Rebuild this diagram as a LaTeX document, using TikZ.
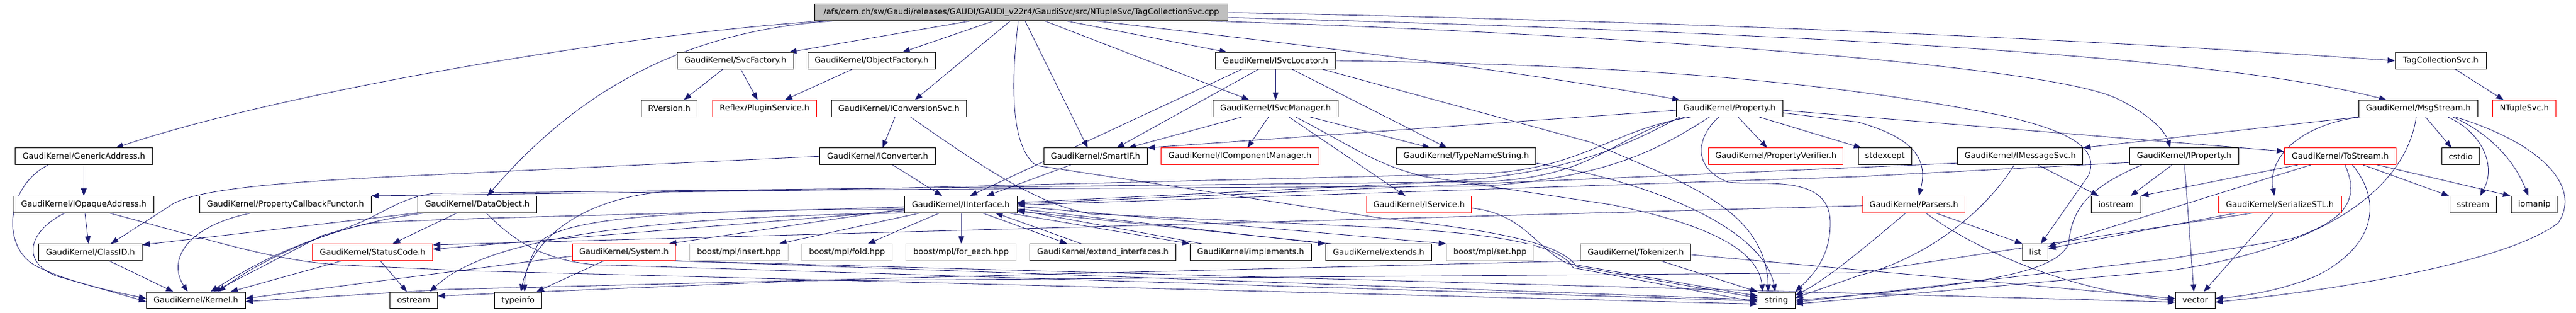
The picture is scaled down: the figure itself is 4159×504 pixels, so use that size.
\documentclass[tikz,border=0pt]{standalone}
\usepackage{fontspec}
\newfontfamily\dvfam{DejaVu Sans}
\usetikzlibrary{arrows.meta}
\definecolor{eb}{HTML}{191970}
\definecolor{gb}{HTML}{BFBFBF}
\pgfdeclarelayer{bg}
\pgfsetlayers{bg,main}
\begin{document}
\begin{tikzpicture}[x=1pt,y=-1pt,
  nd/.style={draw=black, fill=white, line width=1pt, minimum height=26.5pt, inner sep=0pt, font=\dvfam\fontsize{13}{15}\selectfont, text=black},
  rd/.style={nd, draw=red},
  gy/.style={nd, draw=gb},
  edg/.style={draw=eb, line width=0.8pt, -{Triangle[length=12pt,width=9pt]}}]
\begin{pgfonlayer}{bg}
\fill[white] (0,0) rectangle (4159,504);
\end{pgfonlayer}
\useasboundingbox (0,0) rectangle (4159,504);
% row 0
\node[nd, fill=gb, minimum width=667pt] (top) at (1649.1,20.2) {/afs/cern.ch/sw/Gaudi/releases/GAUDI/GAUDI\_v22r4/GaudiSvc/src/NTupleSvc/TagCollectionSvc.cpp};
% row 1
\node[nd, minimum width=188pt] (svcf) at (1187.3,98) {GaudiKernel/SvcFactory.h};
\node[nd, minimum width=206.3pt] (objf) at (1407.2,98) {GaudiKernel/ObjectFactory.h};
\node[nd, minimum width=193.8pt] (svcloc) at (2059.4,98) {GaudiKernel/ISvcLocator.h};
\node[nd, minimum width=146.7pt] (tagh) at (3940.7,98) {TagCollectionSvc.h};
% row 2
\node[nd, minimum width=90.6pt] (rver) at (1080.6,175) {RVersion.h};
\node[rd, minimum width=167.9pt] (plug) at (1234.4,175) {Reflex/PluginService.h};
\node[nd, minimum width=217.9pt] (iconv) at (1451.4,175) {GaudiKernel/IConversionSvc.h};
\node[nd, minimum width=201.8pt] (svcman) at (2059.4,175) {GaudiKernel/ISvcManager.h};
\node[nd, minimum width=171.8pt] (prop) at (2792.2,175) {GaudiKernel/Property.h};
\node[nd, minimum width=191.6pt] (msg) at (3904.3,175) {GaudiKernel/MsgStream.h};
\node[rd, minimum width=101.7pt] (ntup) at (4075.4,175) {NTupleSvc.h};
% row 3
\node[nd, minimum width=221.4pt] (gaddr) at (135.3,252.2) {GaudiKernel/GenericAddress.h};
\node[nd, minimum width=186.6pt] (iconvr) at (1417,252.2) {GaudiKernel/IConverter.h};
\node[nd, minimum width=166.9pt] (smart) at (1768.8,252.2) {GaudiKernel/SmartIF.h};
\node[rd, minimum width=254.4pt] (icomp) at (2001.8,252.2) {GaudiKernel/IComponentManager.h};
\node[nd, minimum width=225.4pt] (tns) at (2367.2,252.2) {GaudiKernel/TypeNameString.h};
\node[rd, minimum width=217.4pt] (pver) at (2867.2,252.2) {GaudiKernel/PropertyVerifier.h};
\node[nd, minimum width=85.8pt] (stdex) at (3043.3,252.2) {stdexcept};
\node[nd, minimum width=202.6pt] (imsg) at (3261.6,252.2) {GaudiKernel/IMessageSvc.h};
\node[nd, minimum width=175.9pt] (iprop) at (3526.4,252.2) {GaudiKernel/IProperty.h};
\node[rd, minimum width=179.9pt] (tostr) at (3778.3,252.2) {GaudiKernel/ToStream.h};
\node[nd, minimum width=60.5pt] (cstdio) at (3972.9,252.2) {cstdio};
% row 4
\node[nd, minimum width=225.9pt] (iopaq) at (135.3,329.8) {GaudiKernel/IOpaqueAddress.h};
\node[nd, minimum width=276.8pt] (pcbf) at (460.7,329.8) {GaudiKernel/PropertyCallbackFunctor.h};
\node[nd, minimum width=191.9pt] (dobj) at (770.6,329.8) {GaudiKernel/DataObject.h};
\node[nd, minimum width=181.7pt] (iint) at (1551.2,329.8) {GaudiKernel/IInterface.h};
\node[rd, minimum width=169.6pt] (isvc) at (2291.1,329.8) {GaudiKernel/IService.h};
\node[rd, minimum width=164.7pt] (pars) at (3090,329.8) {GaudiKernel/Parsers.h};
\node[nd, minimum width=80pt] (iostr) at (3416.3,329.8) {iostream};
\node[rd, minimum width=198.8pt] (ser) at (3680.9,329.8) {GaudiKernel/SerializeSTL.h};
\node[nd, minimum width=74.4pt] (sstr) at (3992.8,329.8) {sstream};
\node[nd, minimum width=73.5pt] (ioman) at (4091.6,329.8) {iomanip};
% row 5
\node[nd, minimum width=167pt] (clid) at (146,407) {GaudiKernel/ClassID.h};
\node[rd, minimum width=193.6pt] (stc) at (601.7,407) {GaudiKernel/StatusCode.h};
\node[rd, minimum width=165.6pt] (sys) at (1007.4,407) {GaudiKernel/System.h};
\node[gy, minimum width=158.9pt] (bins) at (1192.9,407) {boost/mpl/insert.hpp};
\node[gy, minimum width=146pt] (bfold) at (1367.6,407) {boost/mpl/fold.hpp};
\node[gy, minimum width=178.1pt] (bfe) at (1551.6,407) {boost/mpl/for\_each.hpp};
\node[nd, minimum width=236.2pt] (extif) at (1780.6,407) {GaudiKernel/extend\_interfaces.h};
\node[nd, minimum width=195.6pt] (impl) at (2019.2,407) {GaudiKernel/implements.h};
\node[nd, minimum width=170.6pt] (exts) at (2225.9,407) {GaudiKernel/extends.h};
\node[gy, minimum width=140.6pt] (bset) at (2405.6,407) {boost/mpl/set.hpp};
\node[nd, minimum width=178.1pt] (tok) at (2640.9,407) {GaudiKernel/Tokenizer.h};
\node[nd, minimum width=40.7pt] (lst) at (3286,407) {list};
% row 6
\node[nd, minimum width=159.4pt] (kern) at (316.3,484.5) {GaudiKernel/Kernel.h};
\node[nd, minimum width=76.4pt] (ostr) at (668.1,484.5) {ostream};
\node[nd, minimum width=75.4pt] (tinfo) at (836.4,484.5) {typeinfo};
\node[nd, minimum width=60.2pt] (str) at (2868.1,484.5) {string};
\node[nd, minimum width=63.9pt] (vec) at (3544.3,484.5) {vector};

\begin{pgfonlayer}{bg}
% ---------- edges from the top file
\draw[edg] (1330,0 |- top.south) .. controls (1000,55) and (450,150) .. (187,0 |- gaddr.north);
\draw[edg] (1345,0 |- top.south) .. controls (1100,50) and (930,150) .. (787,0 |- dobj.north);
\draw[edg] (1566,0 |- top.south) -- (1274,0 |- svcf.north);
\draw[edg] (1604,0 |- top.south) -- (1457,0 |- objf.north);
\draw[edg] (1631,0 |- top.south) -- (1477,0 |- iconv.north);
\draw[edg] (1644,0 |- top.south) .. controls (1630,150) and (1635,240) .. (1673,267) -- (2230,352) .. controls (2400,370) and (2520,390) .. (2545,430) -- ([yshift=4]str.west);
\draw[edg] (1655,0 |- top.south) -- (1756,0 |- smart.north);
\draw[edg] (1687,0 |- top.south) -- (2017,0 |- svcman.north);
\draw[edg] (1722,0 |- top.south) -- (1981,0 |- svcloc.north);
\draw[edg] (1771,0 |- top.south) .. controls (1950,55) and (2400,105) .. (2712,0 |- prop.north);
\draw[edg] (1950,0 |- top.south) .. controls (2500,50) and (3300,100) .. (3420,160) .. controls (3470,185) and (3495,210) .. (3504,0 |- iprop.north);
\draw[edg] (top.east) .. controls (3000,40) and (3600,80) .. (tagh.west);
\draw[edg] ([yshift=-8]top.east) .. controls (3000,55) and (3600,95) .. (3853,0 |- msg.north);

% ---------- factories
\draw[edg] (1167,0 |- svcf.south) -- (1104,0 |- rver.north);
\draw[edg] (1196,0 |- svcf.south) -- (1223,0 |- plug.north);
\draw[edg] (1376,0 |- objf.south) -- (1267,0 |- plug.north);

% ---------- conversion
\draw[edg] (1445,0 |- iconv.south) -- (1425,0 |- iconvr.north);
\draw[edg] (1470,0 |- iconv.south) .. controls (1600,280) and (1680,330) .. (1760,345) -- (2250,368) .. controls (2420,378) and (2520,395) .. (2540,432) -- ([yshift=-3]str.west);
\draw[edg] (1441,0 |- iconvr.south) -- (1521,0 |- iint.north);
\draw[edg] (iconvr.west) -- (700,282) .. controls (400,295) and (300,310) .. (270,335) -- (179,0 |- clid.north);

% ---------- address / kernel
\draw[edg] (gaddr) -- (iopaq);
\draw[edg] (78,0 |- gaddr.south) .. controls (10,300) and (0,400) .. (60,430) .. controls (110,455) and (180,470) .. ([yshift=3]kern.west);
\draw[edg] (137,0 |- iopaq.south) -- (143,0 |- clid.north);
\draw[edg] (105,0 |- iopaq.south) .. controls (50,370) and (30,420) .. (90,445) -- ([yshift=-2]kern.west);
\draw[edg] (176,0 |- iopaq.south) .. controls (350,390) and (450,423) .. (560,428) -- (760,437) -- ([yshift=-6]str.west);
\draw[edg] (176,0 |- clid.south) -- (280,0 |- kern.north);
\draw[edg] (406,0 |- pcbf.south) .. controls (300,365) and (270,420) .. (303,0 |- kern.north);

% ---------- data object / status code / system
\draw[edg] (738,0 |- dobj.south) -- (634,0 |- stc.north);
\draw[edg] (dobj.south west) -- ([yshift=12]clid.east);
\draw[edg] (686,0 |- dobj.south) .. controls (560,360) and (450,400) .. (340,0 |- kern.north);
\draw[edg] (785,0 |- dobj.south) .. controls (830,390) and (880,420) .. (960,427) -- ([yshift=-1]str.west);
\draw[edg] (614,0 |- stc.south) -- (657,0 |- ostr.north);
\draw[edg] (552,0 |- stc.south) -- (372,0 |- kern.north);
\draw[edg] (975,0 |- sys.south) -- (866,0 |- tinfo.north);
\draw[edg] ([yshift=-6]sys.west) -- ([yshift=3]kern.east);
\draw[edg] (sys.south east) -- ([yshift=1]str.west);
\draw[edg] ([xshift=-6]sys.south east) -- ([yshift=-3]vec.west);

% ---------- IInterface
\draw[edg] (1486,0 |- iint.south) -- (1258,0 |- bins.north);
\draw[edg] (1517,0 |- iint.south) -- (1401,0 |- bfold.north);
\draw[edg] (1552,0 |- iint.south) -- (1552,0 |- bfe.north);
\draw[edg] (1586,0 |- iint.south) -- (1723,0 |- extif.north);
\draw[edg] (1746,0 |- extif.north) -- (1607,0 |- iint.south);
\draw[edg] (1628,0 |- iint.south) -- (impl.north west);
\draw[edg] (1941,0 |- impl.north) -- ([yshift=-9]iint.east);
\draw[edg] ([yshift=-7]iint.east) -- (exts.north west);
\draw[edg] (2150,0 |- exts.north) -- ([yshift=-11]iint.east);
\draw[edg] ([yshift=-3]iint.east) -- (bset.north west);
\draw[edg] ([yshift=-4]iint.west) .. controls (1100,345) and (700,352) .. (600,360) .. controls (520,375) and (420,420) .. (352,0 |- kern.north);
\draw[edg] ([yshift=-7]iint.west) -- (1080,0 |- sys.north);
\draw[edg] ([yshift=-10]iint.west) -- ([yshift=5]stc.east);
\draw[edg] (1468,0 |- iint.south) .. controls (1000,350) and (780,390) .. (694,0 |- ostr.north);
\draw[edg] ([yshift=-8]iint.west) .. controls (1100,338) and (900,350) .. (868,395) .. controls (855,420) and (847,440) .. (847,0 |- tinfo.north);
\draw[edg] (1729,0 |- smart.south) -- (1593,0 |- iint.north);

% ---------- service locator / manager
\draw[edg] (2005,0 |- svcloc.south) -- (1566,0 |- iint.north);
\draw[edg] (2032,0 |- svcloc.south) -- (1803,0 |- smart.north);
\draw[edg] (svcloc) -- (svcman);
\draw[edg] (2086,0 |- svcloc.south) -- (2336,0 |- tns.north);
\draw[edg] (2135,0 |- svcloc.south) -- (2570,230) .. controls (2700,290) and (2850,330) .. (2855,0 |- str.north);
\draw[edg] (svcloc.east) .. controls (2700,105) and (3000,140) .. (3240,188) .. controls (3330,210) and (3392,235) .. (3372,283) -- (3295,0 |- lst.north);
\draw[edg] (2005,0 |- svcman.south) -- (1822,0 |- smart.north);
\draw[edg] (2048,0 |- svcman.south) -- (2014,0 |- icomp.north);
\draw[edg] (2115,0 |- svcman.south) -- (2309,0 |- tns.north);
\draw[edg] (2081,0 |- svcman.south) -- (2269,0 |- isvc.north);
\draw[edg] (2092,0 |- svcman.south) .. controls (2190,240) and (2220,265) .. (2300,285) -- (2600,330) .. controls (2800,370) and (2840,420) .. (2846,0 |- str.north);
\draw[edg] ([yshift=-6]isvc.east) .. controls (2460,345) and (2480,400) .. (2530,425) -- ([yshift=7]str.west);
\draw[edg] ([yshift=-11]tns.east) .. controls (2700,300) and (2850,380) .. (2866,0 |- str.north);

% ---------- Property
\draw[edg] (2806,0 |- prop.south) -- (2853,0 |- pver.north);
\draw[edg] (2840,0 |- prop.south) -- (3005,0 |- stdex.north);
\draw[edg] (2775,0 |- prop.south) .. controls (2740,220) and (2730,270) .. (2790,294) .. controls (2850,300) and (2955,280) .. (2955,360) .. controls (2955,420) and (2920,450) .. (str.north east);
\draw[edg] ([yshift=-7]prop.east) -- (3000,197) .. controls (3080,220) and (3115,250) .. (3098,0 |- pars.north);
\draw[edg] ([yshift=-3]prop.east) -- ([yshift=8]tostr.west);
\draw[edg] ([yshift=-3]prop.west) -- (smart.north east);
\draw[edg] (2730,0 |- prop.south) .. controls (2600,210) and (2560,270) .. (2400,280) -- (1300,307) -- (pcbf.north east);
\draw[edg] (2721,0 |- prop.south) .. controls (2600,220) and (2580,285) .. (2400,293) -- (700,312) .. controls (630,322) and (615,355) .. (520,380) -- (345,0 |- kern.north);
\draw[edg] (2760,0 |- prop.south) .. controls (2680,240) and (2600,285) .. (2400,300) -- (1100,308) .. controls (950,312) and (860,380) .. (841,0 |- tinfo.north);
\draw[edg] (2712,0 |- prop.south) .. controls (2600,250) and (2500,285) .. (2300,295) -- ([yshift=3]iint.east);

% ---------- Tokenizer / Parsers
\draw[edg] (2681,0 |- tok.south) -- (str.north west);
\draw[edg] ([yshift=-4]tok.east) -- ([yshift=3]vec.west);
\draw[edg] (tok.south west) -- (720,467) -- ([yshift=-2]kern.east);
\draw[edg] (3077,0 |- pars.south) .. controls (3010,400) and (2950,450) .. ([yshift=8]str.east);
\draw[edg] (3125,0 |- pars.south) -- (lst.north west);
\draw[edg] (3109,0 |- pars.south) .. controls (3200,410) and (3350,470) .. (vec.west);
\draw[edg] ([yshift=-2]pars.west) -- ([yshift=12]stc.east);

% ---------- IMessageSvc / IProperty
\draw[edg] (3290,0 |- imsg.south) -- (3388,0 |- iostr.north);
\draw[edg] (3252,0 |- imsg.south) .. controls (3200,350) and (3100,420) .. (3000,445) -- ([yshift=4]str.east);
\draw[edg] ([yshift=-11]imsg.west) -- ([yshift=1]iint.east);
\draw[edg] ([yshift=-10]iprop.west) -- (3000,285) -- ([yshift=-1]iint.east);
\draw[edg] (3507,0 |- iprop.south) -- (3440,0 |- iostr.north);
\draw[edg] (3527,0 |- iprop.south) -- (3542,0 |- vec.north);
\draw[edg] (3458,0 |- iprop.south) .. controls (3380,300) and (3345,330) .. (3340,393) .. controls (3320,440) and (3200,460) .. (str.east);

% ---------- ToStream / SerializeSTL
\draw[edg] (3815,0 |- tostr.south) -- (3954,0 |- sstr.north);
\draw[edg] (3838,0 |- tostr.south) -- (4053,0 |- ioman.north);
\draw[edg] (3710,0 |- tostr.south) -- (iostr.north east);
\draw[edg] (3731,0 |- tostr.south) -- ([yshift=9]lst.east);
\draw[edg] (3786,0 |- tostr.south) .. controls (3810,320) and (3790,355) .. (3700,385) -- (3500,418) -- ([yshift=-3]str.east);
\draw[edg] (3798,0 |- tostr.south) .. controls (3850,330) and (3830,400) .. (3740,445) .. controls (3680,470) and (3620,478) .. ([yshift=3]vec.east);
\draw[edg] (3670,0 |- ser.south) -- (3558,0 |- vec.north);
\draw[edg] (3611,0 |- ser.south) -- ([yshift=6]lst.east);
\draw[edg] (3638,0 |- ser.south) -- (3000,440) -- (1300,453) -- ([yshift=7]ostr.east);

% ---------- MsgStream
\draw[edg] (msg.south west) -- (imsg.north east);
\draw[edg] (3811,0 |- msg.south) .. controls (3720,200) and (3660,250) .. (3672,0 |- ser.north);
\draw[edg] (3916,0 |- msg.south) -- (3958,0 |- cstdio.north);
\draw[edg] (3952,0 |- msg.south) .. controls (4010,215) and (4030,270) .. (4004,0 |- sstr.north);
\draw[edg] (3960,0 |- msg.south) .. controls (4020,215) and (4060,260) .. (4082,0 |- ioman.north);
\draw[edg] (3964,0 |- msg.south) .. controls (4100,230) and (4170,300) .. (4130,360) .. controls (4050,420) and (3800,465) .. ([yshift=-3]vec.east);
\draw[edg] (3901,0 |- msg.south) .. controls (3885,300) and (3760,400) .. (3500,437) -- ([yshift=-6]str.east);
\draw[edg] (3964,0 |- tagh.south) -- (4042,0 |- ntup.north);
\end{pgfonlayer}
\end{tikzpicture}
\end{document}
